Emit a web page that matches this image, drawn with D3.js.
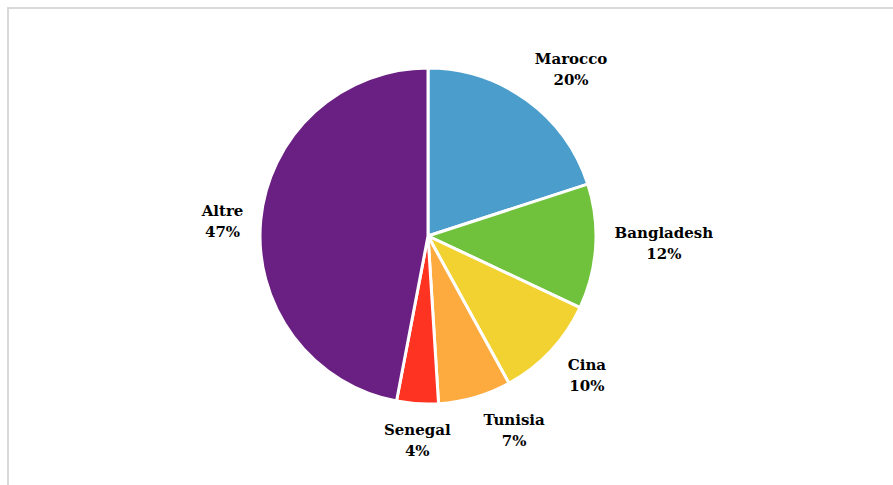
<!DOCTYPE html>
<html>
<head>
<meta charset="utf-8">
<script src="https://cdn.jsdelivr.net/npm/d3@7"></script>
<style>
  body { margin: 0; background: #fff; }
  text { font-family: "DejaVu Serif", serif; font-weight: bold; font-size: 15px; fill: #000; }
</style>
</head>
<body>
<svg id="chart"></svg>
<script>
const countries = ["Marocco", "Bangladesh", "Cina", "Tunisia", "Senegal", "Altre"];
const shares = [20, 12, 10, 7, 4, 47];
const sliceColors = ["#4b9dcc", "#70c13b", "#f2d230", "#fdaa3e", "#ff3322", "#6a1f82"];

const width = 893;
const height = 485;
const cx = 428;
const cy = 236;
const radius = 168;
const labelRadius = 185;
// small nudges to match where the labels sit in the original
const nudge = {
  Marocco: [13, -1],
  Bangladesh: [2, -5],
  Cina: [10, 0],
  Tunisia: [26, -2],
  Senegal: [3, 0],
  Altre: [0, 5],
};

const data = countries.map((c, i) => ({ name: c, value: shares[i], color: sliceColors[i] }));

const svg = d3.select("#chart").attr("width", width).attr("height", height);

svg.append("rect")
  .attr("x", 8).attr("y", 8)
  .attr("width", width + 20).attr("height", height + 20)
  .attr("fill", "none")
  .attr("stroke", "#d9d9d9")
  .attr("stroke-width", 2);

const pie = d3.pie().value((d) => d.value).sort(null);
const arc = d3.arc().innerRadius(0).outerRadius(radius);

const g = svg.append("g").attr("transform", `translate(${cx},${cy})`);

const arcs = pie(data);

g.selectAll("path")
  .data(arcs)
  .enter()
  .append("path")
  .attr("d", arc)
  .attr("fill", (d) => d.data.color)
  .attr("stroke", "#fff")
  .attr("stroke-width", 3)
  .attr("stroke-linejoin", "round");

const labels = g.selectAll("g.label")
  .data(arcs)
  .enter()
  .append("g")
  .attr("class", "label");

labels.append("text")
  .attr("text-anchor", "middle")
  .attr("y", -4)
  .text((d) => d.data.name);
labels.append("text")
  .attr("text-anchor", "middle")
  .attr("y", 17)
  .text((d) => d.data.value + "%");

labels.attr("transform", function (d) {
  const a = (d.startAngle + d.endAngle) / 2;
  const box = this.getBBox();
  const hw = box.width / 2;
  const hh = box.height / 2;
  const sx = Math.sin(a);
  const sy = -Math.cos(a);
  const n = nudge[d.data.name] || [0, 0];
  const x = sx * labelRadius + hw * sx + n[0];
  const y = sy * labelRadius + hh * sy + n[1];
  // centre the two-line box on (x, y)
  const oy = -(box.y + box.height / 2);
  return `translate(${x},${y + oy})`;
});
</script>
</body>
</html>
